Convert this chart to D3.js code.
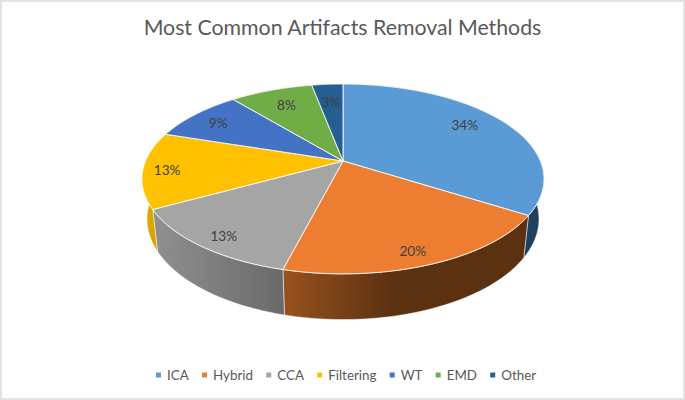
<!DOCTYPE html>
<html>
<head>
<meta charset="utf-8">
<script src="https://cdn.jsdelivr.net/npm/d3@7"></script>
<style>
    html, body { margin: 0; padding: 0; background: #fff; }
    svg { display: block; }
    text { font-family: Lato, "Open Sans", sans-serif; }
</style>
</head>
<body>
<div id="chart"></div>
<script>
// data
const methods = ["ICA", "Hybrid", "CCA", "Filtering", "WT", "EMD", "Other"];
const shares = [34, 20, 13, 13, 9, 8, 3];
const topColors = ["#5b9bd5", "#ed7d31", "#a5a5a5", "#ffc000", "#4472c4", "#70ad47", "#255e91"];
const wallLeft = ["#2a5478", "#98521f", "#909090", "#e0a800", "#2f5597", "#4e7a31", "#1a4265"];
const wallRight = ["#1f3f5c", "#5c3110", "#6a6a6a", "#d69f00", "#2f5597", "#4e7a31", "#1a4265"];

// how far out each percent label sits, as a fraction of the radius, and its turn off the slice middle
const labelRadius = [0.79, 0.88, 0.88, 0.88, 0.82, 0.76, 0.74];
const labelTurn = [-3.7, 1.8, -1.3, -1, -1, 0, 0];

const width = 685;
const height = 400;

// the pie is a flat disc seen in perspective, so the apex is above the ellipse centre
const centerX = 343;
const apexY = 161;
const radius = 197.4;
const persp = -0.189;
const foreshorten = 61.1;

// the lower rim of the disc
const rimScale = 0.975;
const rimStretch = 1.06;
const rimShift = 29.3;

function project(angle, r)
{
    const u = Math.sin(angle) * r;
    const v = -Math.cos(angle) * r;
    const d = 1 + persp * v;
    return [centerX + radius * u / d, (foreshorten * v + apexY) / d];
}

function projectRim(angle)
{
    const p = project(angle, 1);
    return [centerX + (p[0] - centerX) * rimScale, p[1] * rimStretch + rimShift];
}

function arcAngles(s)
{
    return d3.range(0, 61).map(i => s.startAngle + (s.endAngle - s.startAngle) * i / 60);
}

const svg = d3.select("#chart").append("svg")
    .attr("width", width)
    .attr("height", height);

svg.append("rect")
    .attr("x", 1)
    .attr("y", 1)
    .attr("width", width - 2)
    .attr("height", height - 2)
    .attr("fill", "#fff")
    .attr("stroke", "#e2e2e2")
    .attr("stroke-width", 2);

svg.append("text")
    .attr("x", 342.5)
    .attr("y", 35)
    .attr("text-anchor", "middle")
    .attr("font-size", 21.3)
    .attr("fill", "#595959")
    .text("Most Common Artifacts Removal Methods");

const slices = d3.pie().sort(null).value(d => d)(shares);
const line = d3.line();
const defs = svg.append("defs");

// outer walls first, the top face covers whatever faces away
const walls = svg.append("g");
slices.forEach((s, i) => {
    const angles = arcAngles(s);
    const upper = angles.map(a => project(a, 1));
    const lower = angles.map(projectRim);
    const xs = upper.map(p => p[0]);

    const grad = defs.append("linearGradient")
        .attr("id", "wall" + i)
        .attr("gradientUnits", "userSpaceOnUse")
        .attr("x1", d3.min(xs))
        .attr("x2", i == 1 ? d3.min(xs) + 110 : d3.max(xs))
        .attr("y1", 0)
        .attr("y2", 0);
    grad.append("stop").attr("offset", 0).attr("stop-color", wallLeft[i]);
    grad.append("stop").attr("offset", 1).attr("stop-color", wallRight[i]);

    walls.append("path")
        .attr("d", line(upper.concat(lower.reverse())) + "Z")
        .attr("fill", "url(#wall" + i + ")")
        .attr("stroke", "#fff")
        .attr("stroke-opacity", 0.7)
        .attr("stroke-width", 0.7);
});

const faces = svg.append("g");
slices.forEach((s, i) => {
    const rimPoints = arcAngles(s).map(a => project(a, 1));
    faces.append("path")
        .attr("d", line([project(0, 0)].concat(rimPoints)) + "Z")
        .attr("fill", topColors[i])
        .attr("stroke", "#fff")
        .attr("stroke-opacity", 0.85)
        .attr("stroke-width", 1);
});

const labels = svg.append("g");
slices.forEach((s, i) => {
    const mid = (s.startAngle + s.endAngle) / 2 + labelTurn[i] * Math.PI / 180;
    const p = project(mid, labelRadius[i]);
    labels.append("text")
        .attr("x", p[0])
        .attr("y", p[1] + 5)
        .attr("text-anchor", "middle")
        .attr("font-size", 13.6)
        .attr("fill", "#404040")
        .text(shares[i] + "%");
});

// legend flows left to right from the measured label widths
const legend = svg.append("g");
let legendX = 156;
methods.forEach((name, i) => {
    legend.append("rect")
        .attr("x", legendX)
        .attr("y", 372.5)
        .attr("width", 5)
        .attr("height", 5)
        .attr("fill", topColors[i]);
    const label = legend.append("text")
        .attr("x", legendX + 11)
        .attr("y", 380)
        .attr("font-size", 13.4)
        .attr("fill", "#595959")
        .text(name);
    legendX += 11 + label.node().getComputedTextLength() + 13.2;
});
</script>
</body>
</html>
